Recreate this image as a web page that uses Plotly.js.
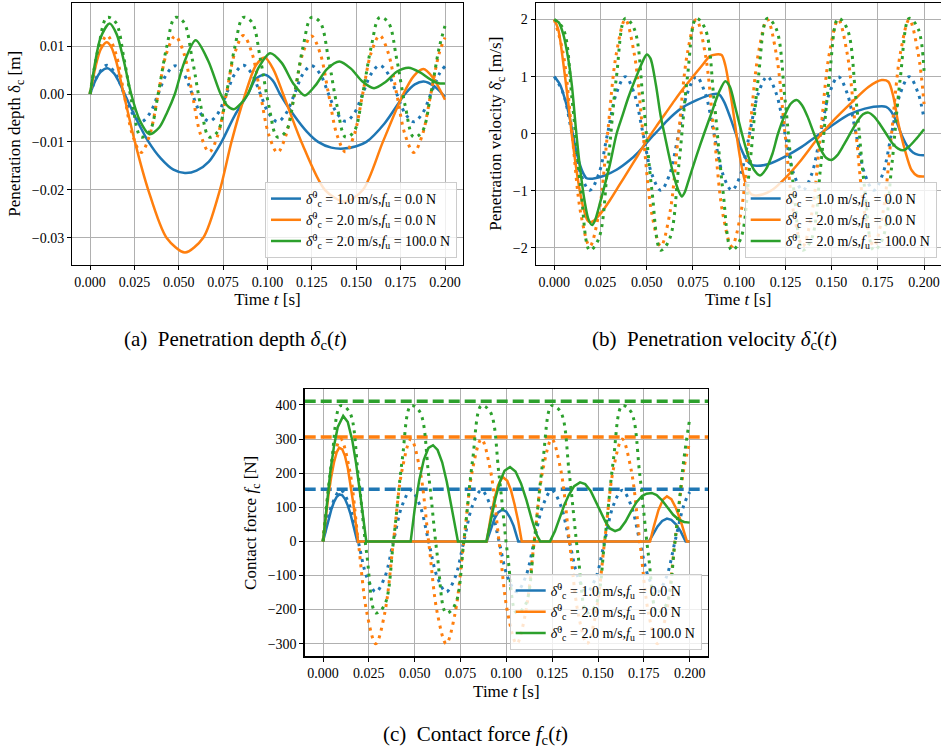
<!DOCTYPE html>
<html>
<head>
<meta charset="utf-8">
<script src="https://cdn.plot.ly/plotly-3.0.1.min.js"></script>
<style>
  body { margin: 0; background: #fff; }
  #chart { width: 941px; height: 751px; }
</style>
</head>
<body>
<div id="chart"></div>
<script>
// ---- series colours / legend labels ----
const seriesNames = [
  "<i>δ̇</i><sup>0</sup><sub>c</sub> = 1.0 m/s,<i>f</i><sub>u</sub> = 0.0 N",
  "<i>δ̇</i><sup>0</sup><sub>c</sub> = 2.0 m/s,<i>f</i><sub>u</sub> = 0.0 N",
  "<i>δ̇</i><sup>0</sup><sub>c</sub> = 2.0 m/s,<i>f</i><sub>u</sub> = 100.0 N"
];

// ---- linear (always-in-contact) reference responses, dotted ----
const tRef = [0,0.0048,0.0096,0.0144,0.0192,0.0240,0.0288,0.0336,0.0384,0.0432,0.0480,0.0528,0.0576,0.0624,0.0672,0.0720,0.0768,0.0816,0.0864,0.0912,0.0960,0.1008,0.1056,0.1104,0.1152,0.1200,0.1248,0.1296,0.1344,0.1392,0.1440,0.1488,0.1536,0.1584,0.1632,0.1680,0.1728,0.1776,0.1824,0.1872,0.1920,0.1968,0.2000];

const depthRefBlue = [0,0.0042,0.0060,0.0042,0,-0.0041,-0.0058,-0.0041, 0,0.0042,0.0059,0.0042,0,-0.0041,-0.0057,-0.0041, 0,0.0042,0.0060,0.0042,0,-0.0041,-0.0058,-0.0041, 0,0.0042,0.0059,0.0042,0,-0.0041,-0.0057,-0.0041, 0,0.0042,0.0060,0.0042,0,-0.0041,-0.0058,-0.0041, 0,0.0042,0.0058];
const depthRefOrange = [0,0.0086,0.0122,0.0086,0,-0.0086,-0.0122,-0.0086, 0,0.0086,0.0121,0.0086,0,-0.0086,-0.0121,-0.0086, 0,0.0086,0.0122,0.0086,0,-0.0086,-0.0122,-0.0086, 0,0.0086,0.0121,0.0086,0,-0.0086,-0.0121,-0.0086, 0,0.0086,0.0122,0.0086,0,-0.0086,-0.0122,-0.0086, 0,0.0086,0.0118];
const depthRefGreen = [0,0.0098,0.0160,0.0150,0.0073,-0.0025,-0.0090,-0.0078, 0,0.0098,0.0160,0.0150,0.0073,-0.0025,-0.0090,-0.0078, 0,0.0098,0.0160,0.0150,0.0073,-0.0025,-0.0090,-0.0078, 0,0.0098,0.0160,0.0150,0.0073,-0.0025,-0.0090,-0.0078, 0,0.0098,0.0160,0.0150,0.0073,-0.0025,-0.0090,-0.0078, 0,0.0098,0.0142];

const velRefBlue = [1.0,0.71,0,-0.71,-0.99,-0.71,0,0.71, 1.0,0.71,0,-0.71,-0.99,-0.71,0,0.71, 1.0,0.71,0,-0.71,-0.99,-0.71,0,0.71, 1.0,0.71,0,-0.71,-0.99,-0.71,0,0.71, 1.0,0.71,0,-0.71,-0.99,-0.71,0,0.71, 1.0,0.71,0.26];
const velRefOrange = [2.0,1.41,0,-1.41,-1.97,-1.41,0,1.41, 2.0,1.41,0,-1.41,-1.97,-1.41,0,1.41, 2.0,1.41,0,-1.41,-1.97,-1.41,0,1.41, 2.0,1.41,0,-1.41,-1.97,-1.41,0,1.41, 2.0,1.41,0,-1.41,-1.97,-1.41,0,1.41, 2.0,1.41,0.52];
const velRefGreen = [2.0,1.84,0.60,-0.99,-2.04,-1.84,-0.60,0.99, 2.02,1.84,0.60,-0.99,-2.04,-1.84,-0.60,0.99, 2.02,1.84,0.60,-0.99,-2.04,-1.84,-0.60,0.99, 2.02,1.84,0.60,-0.99,-2.04,-1.84,-0.60,0.99, 2.02,1.84,0.60,-0.99,-2.04,-1.84,-0.60,0.99, 2.02,1.84,1.10];

const forceRefBlue = [0,106,150,106,0,-106,-148,-106, 0,106,150,106,0,-106,-148,-106, 0,106,150,106,0,-106,-148,-106, 0,106,150,106,0,-106,-148,-106, 0,106,150,106,0,-106,-148,-106, 0,106,145];
const forceRefOrange = [0,212,300,212,0,-212,-300,-212, 0,212,300,212,0,-212,-300,-212, 0,212,300,212,0,-212,-300,-212, 0,212,300,212,0,-212,-300,-212, 0,212,300,212,0,-212,-300,-212, 0,212,290];
const forceRefGreen = [0,239,398,380,195,-44,-210,-186, 0,239,398,380,195,-44,-210,-186, 0,239,398,380,195,-44,-210,-186, 0,239,398,380,195,-44,-210,-186, 0,239,398,380,195,-44,-210,-186, 0,239,359];

// ---- contact model, penetration depth [m] ----
const tDepthBlue = [0,0.003,0.006,0.0098,0.0135,0.0165,0.0195,0.0258,0.033,0.040,0.047,0.0535,0.060,0.067,0.0741,0.0815,0.089,0.0935,0.0985,0.103,0.107,0.115,0.122,0.1285,0.136,0.143,0.150,0.1557,0.1658,0.1775,0.183,0.188,0.194,0.2];
const depthBlue = [0,0.0028,0.0046,0.0054,0.0043,0.0024,0,-0.0050,-0.0100,-0.0135,-0.0158,-0.0165,-0.0160,-0.0141,-0.0100,-0.0045,0,0.0032,0.0040,0.0028,0,-0.0045,-0.0078,-0.0100,-0.0112,-0.0114,-0.0109,-0.0100,-0.0062,0,0.0020,0.0026,0.0016,-0.0006];

const tDepthOrange = [0,0.003,0.006,0.0094,0.012,0.015,0.019,0.0253,0.0328,0.0431,0.0535,0.0638,0.0732,0.0797,0.0875,0.0935,0.0985,0.1035,0.1088,0.1191,0.1323,0.1435,0.1538,0.165,0.1765,0.1825,0.1878,0.193,0.2];
const depthOrange = [0,0.0055,0.0093,0.0108,0.0098,0.0065,0,-0.0100,-0.0200,-0.0300,-0.0331,-0.0300,-0.0200,-0.0100,0,0.0060,0.0076,0.0050,0,-0.0100,-0.0200,-0.0225,-0.0200,-0.0100,0,0.0038,0.0052,0.0035,-0.0012];

const tDepthGreen = [0,0.003,0.006,0.011,0.015,0.019,0.0232,0.028,0.0335,0.039,0.0435,0.0478,0.053,0.0595,0.0665,0.0736,0.0775,0.081,0.085,0.089,0.095,0.1015,0.108,0.1145,0.121,0.127,0.1335,0.1405,0.147,0.1535,0.16,0.1665,0.173,0.1795,0.186,0.192,0.197,0.2];
const depthGreen = [0,0.0068,0.0118,0.0147,0.0125,0.0070,0,-0.0055,-0.0084,-0.0070,-0.0038,0,0.0065,0.0112,0.0070,0,-0.0025,-0.0032,-0.0020,0,0.0055,0.0085,0.0065,0.0022,-0.0003,0.0018,0.0052,0.0068,0.0053,0.0026,0.0012,0.0025,0.0047,0.0055,0.0045,0.0030,0.0022,0.0022];

// ---- contact model, penetration velocity [m/s] ----
const tVelBlue = [0,0.0031,0.0058,0.0085,0.0100,0.0115,0.0135,0.0155,0.0175,0.0195,0.022,0.0265,0.0337,0.0409,0.0455,0.0505,0.0535,0.0565,0.0608,0.065,0.0698,0.077,0.0824,0.0878,0.0895,0.092,0.095,0.098,0.101,0.104,0.107,0.110,0.116,0.1248,0.1338,0.142,0.150,0.159,0.168,0.1771,0.1795,0.182,0.185,0.188,0.191,0.194,0.197,0.2];
const velBlue = [1.0,0.86,0.60,0.26,0,-0.25,-0.50,-0.68,-0.78,-0.79,-0.78,-0.74,-0.63,-0.46,-0.32,-0.14,-0.03,0.07,0.22,0.35,0.47,0.59,0.66,0.70,0.68,0.55,0.30,0.02,-0.26,-0.46,-0.55,-0.56,-0.53,-0.40,-0.23,-0.04,0.14,0.33,0.44,0.48,0.47,0.40,0.22,-0.03,-0.22,-0.33,-0.37,-0.375];

const tVelOrange = [0,0.0022,0.0049,0.0076,0.0094,0.011,0.013,0.0157,0.018,0.0193,0.021,0.025,0.030,0.035,0.040,0.045,0.050,0.055,0.060,0.065,0.070,0.075,0.080,0.0842,0.0875,0.0905,0.0925,0.0945,0.0965,0.0985,0.1005,0.1025,0.1045,0.1065,0.1086,0.113,0.118,0.1248,0.1338,0.142,0.1518,0.1609,0.1699,0.1771,0.1807,0.1834,0.1861,0.1897,0.1933,0.1965,0.2];
const velOrange = [2.0,1.82,1.23,0.53,0,-0.40,-0.85,-1.30,-1.52,-1.55,-1.53,-1.40,-1.17,-0.91,-0.65,-0.39,-0.12,0.12,0.35,0.58,0.80,1.00,1.20,1.36,1.39,1.38,1.20,0.85,0.45,0,-0.42,-0.75,-0.96,-1.06,-1.08,-1.06,-0.98,-0.78,-0.45,-0.10,0.26,0.55,0.82,0.94,0.91,0.65,0.18,-0.29,-0.64,-0.74,-0.75];

const tVelGreen = [0,0.0024,0.0048,0.0072,0.0095,0.0118,0.014,0.0165,0.0185,0.0205,0.022,0.025,0.030,0.0337,0.037,0.040,0.045,0.048,0.050,0.052,0.055,0.0575,0.060,0.0625,0.065,0.0675,0.069,0.0705,0.073,0.077,0.081,0.085,0.089,0.0925,0.095,0.098,0.1015,0.105,0.108,0.1113,0.1145,0.118,0.121,0.125,0.128,0.1311,0.134,0.137,0.1405,0.144,0.147,0.150,0.153,0.1565,0.160,0.164,0.167,0.1699,0.173,0.1765,0.1795,0.183,0.186,0.1888,0.192,0.196,0.2];
const velGreen = [2.0,1.95,1.75,1.38,0.85,0.05,-0.62,-1.20,-1.50,-1.60,-1.52,-1.18,-0.55,0,0.33,0.63,1.05,1.28,1.39,1.32,0.85,0.32,-0.07,-0.45,-0.78,-1.02,-1.10,-1.03,-0.78,-0.38,0,0.36,0.72,0.92,0.82,0.45,0,-0.40,-0.63,-0.73,-0.62,-0.35,0,0.35,0.53,0.59,0.50,0.30,0,-0.27,-0.42,-0.46,-0.38,-0.20,0,0.22,0.34,0.37,0.30,0.15,0,-0.17,-0.26,-0.29,-0.22,-0.08,0.08];

// ---- contact model, contact force [N] ----
const tForceBlue = [0,0.0015,0.003,0.0045,0.006,0.0075,0.009,0.0105,0.012,0.0135,0.015,0.0165,0.0187, 0.0893,0.0915,0.0935,0.0955,0.0978,0.1000,0.1020,0.1040,0.1065, 0.1778,0.1800,0.1825,0.1850,0.1876,0.1900,0.1925,0.1950,0.1978, 0.2];
const forceBlue = [0,34,66,93,116,131,138,135,124,105,80,50,0, 0,38,66,85,93,87,70,45,0, 0,22,44,60,67,63,50,30,0, 0];

const tForceOrange = [0,0.0015,0.003,0.0045,0.006,0.0075,0.0088,0.0105,0.012,0.0135,0.015,0.0165,0.0191, 0.0893,0.0915,0.0935,0.0955,0.098,0.1005,0.1025,0.1045,0.1065,0.1084, 0.1784,0.1805,0.1830,0.1855,0.1876,0.1900,0.1925,0.1950,0.1985, 0.2];
const forceOrange = [0,72,137,190,232,262,275,270,250,215,168,112,0, 0,72,125,165,189,178,150,108,58,0, 0,45,92,123,132,124,98,62,0, 0];

const tForceGreen = [0,0.002,0.004,0.006,0.008,0.011,0.0135,0.016,0.018,0.020,0.022,0.0236, 0.0478,0.0500,0.0525,0.0550,0.0575,0.0600,0.0625,0.0650,0.0675,0.0700,0.0720,0.0736, 0.0891,0.0915,0.0940,0.0965,0.0990,0.1020,0.1050,0.1080,0.1110,0.1140,0.1165,0.1185, 0.1238,0.1265,0.1290,0.1315,0.1340,0.1370,0.1402,0.1430,0.1460,0.1490,0.1515,0.1540,0.1565,0.1593,0.1620,0.1650,0.1680,0.1710,0.1740,0.1765,0.1793,0.1820,0.1850,0.1880,0.1910,0.1940,0.1970,0.2000];
const forceGreen = [0,110,205,280,335,368,350,295,230,150,68,0, 0,95,180,240,274,282,268,232,175,100,42,0, 0,62,125,175,207,218,205,170,120,62,20,0, 0,30,68,105,135,162,173,168,148,115,85,58,38,30,36,58,88,115,133,140,142,136,120,98,78,64,57,55];

// ---- peak force bounds, dashed ----
const tBound = [-0.01, 0.21];
const boundBlue = 153, boundOrange = 306, boundGreen = 411;

// ---------------------------------------------------------------------
const COLORS = ["#1f77b4", "#ff7f0e", "#2ca02c"];
const DOT = "3px,5px";
const DASH = "11px,5px";

function solid(x, y, i, ax, legendId, shape) {
  return {
    x: x, y: y, type: "scatter", mode: "lines",
    xaxis: "x" + ax, yaxis: "y" + ax,
    name: seriesNames[i], legend: legendId, showlegend: true,
    line: { color: COLORS[i], width: 2.5, shape: shape, smoothing: 0.8 }
  };
}
function dotted(x, y, i, ax) {
  return {
    x: x, y: y, type: "scatter", mode: "lines",
    xaxis: "x" + ax, yaxis: "y" + ax, showlegend: false,
    line: { color: COLORS[i], width: 3, dash: DOT, shape: "spline", smoothing: 1 }
  };
}
function dashed(v, i, ax) {
  return {
    x: tBound, y: [v, v], type: "scatter", mode: "lines",
    xaxis: "x" + ax, yaxis: "y" + ax, showlegend: false,
    line: { color: COLORS[i], width: 3.5, dash: DASH }
  };
}

const traces = [
  // (a) depth
  solid(tDepthBlue, depthBlue, 0, "", "legend", "spline"),
  dotted(tRef, depthRefBlue, 0, ""),
  solid(tDepthOrange, depthOrange, 1, "", "legend", "spline"),
  dotted(tRef, depthRefOrange, 1, ""),
  solid(tDepthGreen, depthGreen, 2, "", "legend", "spline"),
  dotted(tRef, depthRefGreen, 2, ""),
  // (b) velocity
  solid(tVelBlue, velBlue, 0, "2", "legend2", "spline"),
  dotted(tRef, velRefBlue, 0, "2"),
  solid(tVelOrange, velOrange, 1, "2", "legend2", "spline"),
  dotted(tRef, velRefOrange, 1, "2"),
  solid(tVelGreen, velGreen, 2, "2", "legend2", "spline"),
  dotted(tRef, velRefGreen, 2, "2"),
  // (c) force
  solid(tForceBlue, forceBlue, 0, "3", "legend3", "linear"),
  dotted(tRef, forceRefBlue, 0, "3"),
  dashed(boundBlue, 0, "3"),
  solid(tForceOrange, forceOrange, 1, "3", "legend3", "linear"),
  dotted(tRef, forceRefOrange, 1, "3"),
  dashed(boundOrange, 1, "3"),
  solid(tForceGreen, forceGreen, 2, "3", "legend3", "linear"),
  dotted(tRef, forceRefGreen, 2, "3"),
  dashed(boundGreen, 2, "3")
];

const W = 941, H = 751;
const FONT = "Liberation Serif, Times New Roman, serif";
const px = v => v / W;
const py = v => 1 - v / H;

function xAxis(d, r, anchor) {
  return {
    domain: d, range: r, anchor: anchor,
    tickvals: [0, 0.025, 0.05, 0.075, 0.1, 0.125, 0.15, 0.175, 0.2],
    tickformat: ".3f", showgrid: true, gridcolor: "#b0b0b0", gridwidth: 1, zeroline: false,
    showline: true, mirror: true, linecolor: "#000", linewidth: 1.3,
    ticks: "outside", ticklen: 4, tickcolor: "#000",
    title: { text: "Time <i>t</i> [s]", standoff: 4 }
  };
}
function yAxis(d, r, anchor, tv, fmt, title) {
  return {
    domain: d, range: r, anchor: anchor, tickvals: tv, tickformat: fmt,
    showgrid: true, gridcolor: "#b0b0b0", gridwidth: 1, zeroline: false,
    showline: true, mirror: true, linecolor: "#000", linewidth: 1.3,
    ticks: "outside", ticklen: 4, tickcolor: "#000",
    title: { text: title, standoff: 6 }
  };
}
function legendBox(xr, yb) {
  return {
    x: xr, y: yb, xanchor: "right", yanchor: "bottom",
    bgcolor: "rgba(255,255,255,0.8)", bordercolor: "#cccccc", borderwidth: 1,
    font: { family: FONT, size: 14, color: "#000" }, tracegroupgap: 0, itemwidth: 30
  };
}

const layout = {
  width: W, height: H, autosize: false,
  margin: { l: 0, r: 0, t: 0, b: 0 },
  paper_bgcolor: "#fff", plot_bgcolor: "#fff",
  font: { family: FONT, size: 14, color: "#000" },
  xaxis: xAxis([px(72.25), px(462.75)], [-0.01, 0.21], "y"),
  yaxis: yAxis([py(264.5), py(3)], [-0.0356, 0.0190], "x", [-0.03, -0.02, -0.01, 0, 0.01], ".2f",
               "Penetration depth δ<sub>c</sub> [m]"),
  xaxis2: xAxis([px(535.8), px(940.5)], [-0.01, 0.2089], "y2"),
  yaxis2: yAxis([py(264.5), py(3)], [-2.29, 2.29], "x2", [-2, -1, 0, 1, 2], "d",
                "Penetration velocity δ̇<sub>c</sub> [m/s]"),
  xaxis3: xAxis([px(304.7), px(708)], [-0.01, 0.21], "y3"),
  yaxis3: yAxis([py(656.3), py(389.3)], [-337, 446], "x3", [-300, -200, -100, 0, 100, 200, 300, 400], "d",
                "Contact force <i>f</i><sub>c</sub> [N]"),
  legend: legendBox(px(457), py(258)),
  legend2: legendBox(px(936.7), py(258)),
  legend3: legendBox(px(701.7), py(650)),
  annotations: [
    { text: "(a)  Penetration depth <i>δ</i><sub>c</sub>(<i>t</i>)", x: px(235), y: py(340),
      xref: "paper", yref: "paper", showarrow: false, xanchor: "center", yanchor: "middle",
      font: { family: FONT, size: 21, color: "#000" } },
    { text: "(b)  Penetration velocity <i>δ̇</i><sub>c</sub>(<i>t</i>)", x: px(714), y: py(340),
      xref: "paper", yref: "paper", showarrow: false, xanchor: "center", yanchor: "middle",
      font: { family: FONT, size: 21, color: "#000" } },
    { text: "(c)  Contact force <i>f</i><sub>c</sub>(<i>t</i>)", x: px(475), y: py(735),
      xref: "paper", yref: "paper", showarrow: false, xanchor: "center", yanchor: "middle",
      font: { family: FONT, size: 21, color: "#000" } }
  ]
};

Plotly.newPlot("chart", traces, layout, { staticPlot: true, displayModeBar: false });
</script>
</body>
</html>
